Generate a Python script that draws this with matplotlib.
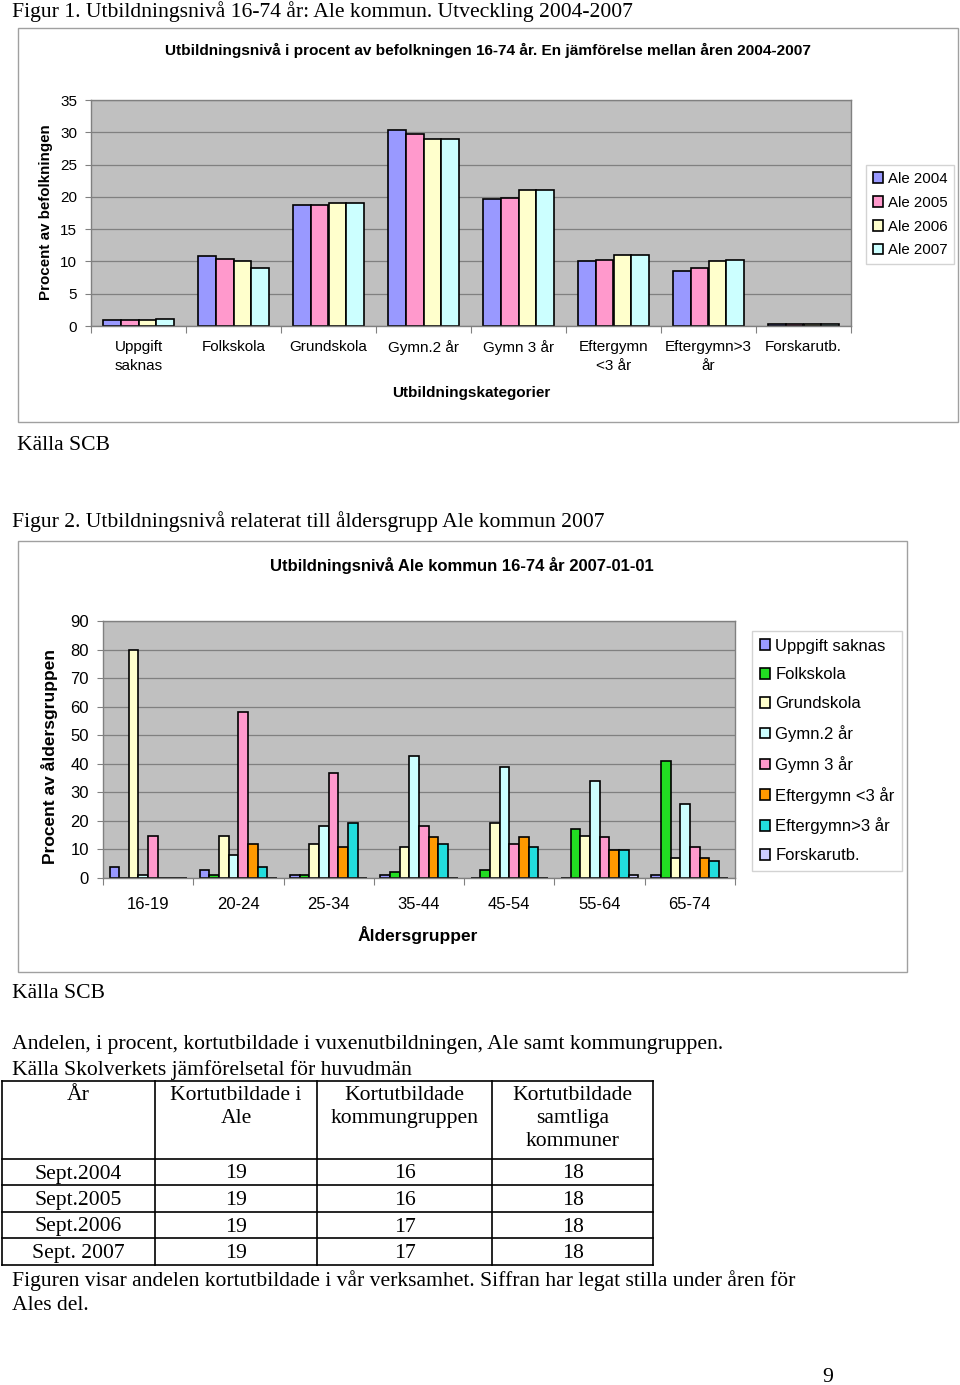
import numpy as np
import matplotlib
matplotlib.use("Agg")
import matplotlib.pyplot as plt
from matplotlib.patches import Rectangle

# --- chart 1 data ---------------------------------------------------------
cat1 = ["Uppgift\nsaknas", "Folkskola", "Grundskola", "Gymn.2 år", "Gymn 3 år",
        "Eftergymn\n<3 år", "Eftergymn>3\når", "Forskarutb."]
years = ["Ale 2004", "Ale 2005", "Ale 2006", "Ale 2007"]
ale2004 = [1.0, 10.9, 18.8, 30.3, 19.6, 10.1, 8.5, 0.3]
ale2005 = [0.9, 10.3, 18.7, 29.7, 19.9, 10.2, 9.0, 0.3]
ale2006 = [1.0, 10.0, 19.0, 29.0, 21.0, 11.0, 10.0, 0.3]
ale2007 = [1.1, 9.0, 19.0, 29.0, 21.0, 11.0, 10.2, 0.3]
year_colors = ["#9999FF", "#FF99CC", "#FFFFCC", "#CCFFFF"]

# --- chart 2 data ---------------------------------------------------------
ages = ["16-19", "20-24", "25-34", "35-44", "45-54", "55-64", "65-74"]
levels = ["Uppgift saknas", "Folkskola", "Grundskola", "Gymn.2 år", "Gymn 3 år",
          "Eftergymn <3 år", "Eftergymn>3 år", "Forskarutb."]
uppgift = [3.9, 2.7, 1.0, 1.0, 0.0, 0.0, 1.0]
folkskola = [0.0, 1.0, 1.0, 2.1, 2.7, 17.1, 41.1]
grundskola = [80.0, 14.7, 12.0, 10.9, 19.3, 14.7, 7.1]
gymn2 = [1.0, 8.2, 18.1, 42.8, 38.9, 34.0, 25.8]
gymn3 = [14.7, 58.1, 36.8, 18.1, 12.0, 14.3, 10.9]
efter_lt3 = [0.0, 12.0, 10.9, 14.3, 14.3, 9.9, 7.1]
efter_gt3 = [0.0, 3.9, 19.3, 12.0, 10.9, 9.9, 6.0]
forskar = [0.0, 0.0, 0.0, 0.0, 0.0, 1.0, 0.0]
level_colors = ["#9999FF", "#22DD22", "#FFFFCC", "#CCFFFF", "#FF99CC",
                "#FF9900", "#22DDDD", "#CCCCFF"]

# --- table data -----------------------------------------------------------
tab_header = ["År", "Kortutbildade i\nAle", "Kortutbildade\nkommungruppen",
              "Kortutbildade\nsamtliga\nkommuner"]
tab_years = ["Sept.2004", "Sept.2005", "Sept.2006", "Sept. 2007"]
tab_ale = [19, 19, 19, 19]
tab_grupp = [16, 16, 17, 17]
tab_alla = [18, 18, 18, 18]

W, H = 960, 1385
SERIF = ["Liberation Serif", "DejaVu Serif"]
SANS = ["Liberation Sans", "DejaVu Sans"]
GRID = "#808080"
SERIF_SIZE = 15.6

plt.rcParams["font.family"] = SANS


def fx(x):
    return x / W


def fy(y):
    return 1 - y / H


def box(x0, y0, x1, y1):
    return [x0 / W, 1 - y1 / H, (x1 - x0) / W, (y1 - y0) / H]


def frame(fig, x0, y0, x1, y1):
    fig.add_artist(Rectangle((fx(x0), fy(y1)), (x1 - x0) / W, (y1 - y0) / H,
                             transform=fig.transFigure, fill=False,
                             edgecolor="#A0A0A0", lw=1.0))


def serif_text(fig, x, y, s, size=SERIF_SIZE, **kw):
    # small downward nudge: the reference serif sits a bit lower
    fig.text(fx(x), fy(y + 2), s, family=SERIF, fontsize=size, va="center", **kw)


def style_axes(ax, n, ymax, ystep, tick_size):
    ax.set_facecolor("#C0C0C0")
    ax.set_xlim(-0.5, n - 0.5)
    ax.set_ylim(0, ymax)
    ax.set_yticks(np.arange(0, ymax + 1, ystep))
    ax.yaxis.grid(True, color=GRID, lw=0.9)
    ax.set_axisbelow(True)
    for sp in ax.spines.values():
        sp.set_color(GRID)
        sp.set_linewidth(1.0)
    ax.set_xticks(np.arange(-0.5, n, 1.0))
    ax.set_xticklabels([])
    ax.tick_params(axis="x", which="major", length=5, color=GRID)
    ax.tick_params(axis="y", length=4, color=GRID, labelsize=tick_size, pad=6)


fig = plt.figure(figsize=(W / 100, H / 100), dpi=100)

# ---------------- Figur 1 ----------------
serif_text(fig, 12, 10, "Figur 1. Utbildningsnivå 16-74 år: Ale kommun. Utveckling 2004-2007")
frame(fig, 18, 28, 958, 422)
fig.text(fx(488), fy(50), "Utbildningsnivå i procent av befolkningen 16-74 år. "
         "En jämförelse mellan åren 2004-2007", ha="center", va="center",
         fontsize=11.1, fontweight="bold")

ax1 = fig.add_axes(box(91, 100, 851, 326))
style_axes(ax1, len(cat1), 35, 5, 11)
x1 = np.arange(len(cat1))
w1 = 0.185
for i, (vals, lab, col) in enumerate(zip([ale2004, ale2005, ale2006, ale2007],
                                         years, year_colors)):
    ax1.bar(x1 + (i - 1.5) * w1, vals, w1, color=col, edgecolor="black",
            lw=1.2, label=lab)
ax1.set_xticks(x1, minor=True)
ax1.set_xticklabels(cat1, minor=True, fontsize=11, va="top", linespacing=1.45)
ax1.tick_params(axis="x", which="minor", length=0, pad=10)
fig.text(fx(471), fy(393), "Utbildningskategorier", ha="center", va="center",
         fontsize=11, fontweight="bold")
fig.text(fx(46), fy(212), "Procent av befolkningen", ha="center", va="center",
         rotation=90, fontsize=10.9, fontweight="bold")
ax1.legend(loc="upper left", bbox_to_anchor=(fx(866), fy(165)),
           bbox_transform=fig.transFigure, frameon=True, fancybox=False,
           edgecolor="#C8C8C8", fontsize=10.8, handlelength=0.7,
           handleheight=0.7, handletextpad=0.3, labelspacing=0.66,
           borderpad=0.45, borderaxespad=0)
serif_text(fig, 17, 443, "Källa SCB")

# ---------------- Figur 2 ----------------
serif_text(fig, 12, 520, "Figur 2. Utbildningsnivå relaterat till åldersgrupp Ale kommun 2007")
frame(fig, 18, 541, 907, 972)
fig.text(fx(462), fy(565), "Utbildningsnivå Ale kommun 16-74 år 2007-01-01",
         ha="center", va="center", fontsize=12, fontweight="bold")

ax2 = fig.add_axes(box(103, 621, 735, 878))
style_axes(ax2, len(ages), 90, 10, 12)
x2 = np.arange(len(ages))
w2 = 0.107
series2 = [uppgift, folkskola, grundskola, gymn2, gymn3, efter_lt3, efter_gt3, forskar]
for i, (vals, lab, col) in enumerate(zip(series2, levels, level_colors)):
    ax2.bar(x2 + (i - 3.5) * w2, vals, w2, color=col, edgecolor="black",
            lw=1.2, label=lab)
ax2.set_xticks(x2, minor=True)
ax2.set_xticklabels(ages, minor=True, fontsize=12)
ax2.tick_params(axis="x", which="minor", length=0, pad=14)
fig.text(fx(418), fy(935), "Åldersgrupper", ha="center", va="center",
         fontsize=12.5, fontweight="bold")
fig.text(fx(50), fy(756), "Procent av åldersgruppen", ha="center", va="center",
         rotation=90, fontsize=12.5, fontweight="bold")
ax2.legend(loc="upper left", bbox_to_anchor=(fx(752), fy(631)),
           bbox_transform=fig.transFigure, frameon=True, fancybox=False,
           edgecolor="#C8C8C8", fontsize=12, handlelength=0.6,
           handleheight=0.6, handletextpad=0.35, labelspacing=0.83,
           borderpad=0.45, borderaxespad=0)
serif_text(fig, 12, 991, "Källa SCB")

# ---------------- text + table ----------------
serif_text(fig, 12, 1043, "Andelen, i procent, kortutbildade i vuxenutbildningen, "
           "Ale samt kommungruppen.")
serif_text(fig, 12, 1068, "Källa Skolverkets jämförelsetal för huvudmän")

axt = fig.add_axes(box(0, 1075, 660, 1270))
axt.set_xlim(0, 660)
axt.set_ylim(1270, 1075)
axt.axis("off")
col_edges = [2, 155, 317, 492, 653]
row_edges = [1081, 1159, 1185, 1212, 1238, 1265]
for xe in col_edges:
    axt.plot([xe, xe], [row_edges[0], row_edges[-1]], color="black", lw=1.2)
for ye in row_edges:
    axt.plot([col_edges[0], col_edges[-1]], [ye, ye], color="black", lw=1.2)
centers = [(a + b) / 2 for a, b in zip(col_edges[:-1], col_edges[1:])]
for cx, head in zip(centers, tab_header):
    axt.text(cx, row_edges[0] + 5, head, ha="center", va="top", family=SERIF,
             fontsize=SERIF_SIZE, linespacing=1.28)
for r, row in enumerate(zip(tab_years, tab_ale, tab_grupp, tab_alla)):
    cy = (row_edges[r + 1] + row_edges[r + 2]) / 2 + 2
    for cx, val in zip(centers, row):
        axt.text(cx, cy, str(val), ha="center", va="center", family=SERIF,
                 fontsize=SERIF_SIZE)

serif_text(fig, 12, 1279, "Figuren visar andelen kortutbildade i vår verksamhet. "
           "Siffran har legat stilla under åren för")
serif_text(fig, 12, 1304, "Ales del.")
serif_text(fig, 828, 1376, "9", ha="center")

fig.savefig("out.png", dpi=100)
